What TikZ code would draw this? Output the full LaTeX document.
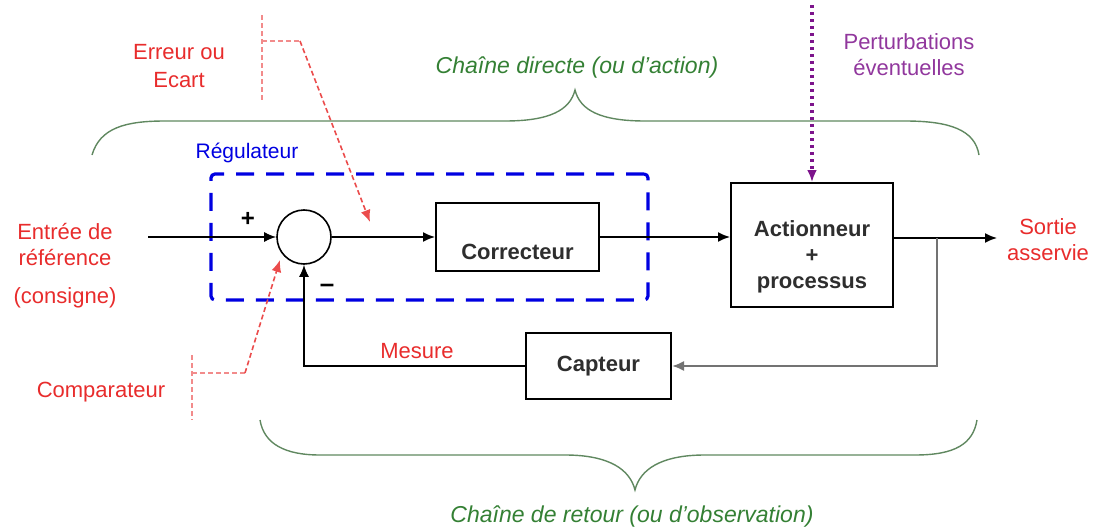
\documentclass[tikz,border=0pt]{standalone}
\usepackage{fontspec}
\setmainfont{Liberation Sans}
\usetikzlibrary{arrows.meta,calc}

\definecolor{errred}{RGB}{232,44,44}
\definecolor{chaingreen}{RGB}{52,128,52}
\definecolor{bracegreen}{RGB}{96,136,96}
\definecolor{regblue}{RGB}{0,0,225}
\definecolor{perturb}{RGB}{125,20,140}

\begin{document}
\begin{tikzpicture}[
    x=0.5pt, y=-0.5pt,
    font=\fontsize{11}{13}\selectfont,
    block/.style={draw=black, line width=1pt, fill=white, text=black!82, font=\fontsize{11}{13}\selectfont\bfseries, align=center},
    comparator/.style={draw=black, line width=0.8pt, circle, minimum size=27pt, inner sep=0pt},
    regulbox/.style={draw=regblue, line width=1.6pt, dash pattern=on 9pt off 6pt, rounded corners=2pt},
    signal/.style={-{Latex[length=6pt,width=5pt]}, line width=0.8pt, draw=black},
    retour/.style={-{Latex[length=6pt,width=5pt]}, line width=1pt, draw=black!55},
    pointer/.style={-{Latex[length=6pt,width=5pt]}, dash pattern=on 2.5pt off 1.5pt, line width=0.8pt, draw=errred!85},
    callout/.style={dash pattern=on 2.5pt off 1.5pt, line width=0.7pt, draw=errred!55},
    disturb/.style={-{Latex[length=6pt,width=5pt]}, line width=1.6pt, dash pattern=on 1.5pt off 2pt, draw=perturb},
    brace/.style={draw=bracegreen, line width=0.7pt},
    redlabel/.style={text=errred, align=center},
    chainlabel/.style={text=chaingreen, font=\fontsize{11.5}{13}\selectfont\itshape}
]
    \useasboundingbox (0,0) rectangle (1099,530);

    % Nodes
    \node[comparator] (sum) at (304,237) {};
    \node[block, minimum width=81.5pt, minimum height=34pt, text height=24pt, text depth=2pt] (corr) at (517.5,237) {Correcteur};
    \node[block, minimum width=81pt, minimum height=62pt, text height=46pt, text depth=2.5pt] (act) at (812,245) {Actionneur\\+\\processus};
    \node[block, minimum width=72.5pt, minimum height=33pt] (capt) at (598.5,366) {Capteur};
    \node[regulbox, minimum width=218.5pt, minimum height=63pt] (regul) at (429.5,237) {};

    \node[text=regblue, font=\fontsize{10.5}{13}\selectfont] (reglabel) at (247,153) {Régulateur};
    \node[font=\fontsize{12}{13}\selectfont\bfseries] (plus) at (248,219) {+};
    \node[font=\fontsize{13}{13}\selectfont\bfseries] (minus) at (327,288) {--};

    \node[redlabel] (entree) at (65,266) {Entrée de\\référence\\[6pt](consigne)};
    \node[redlabel] (sortie) at (1048,240) {Sortie\\asservie};
    \node[redlabel] (erreur) at (179,66) {Erreur ou\\[1pt]Ecart};
    \node[redlabel] (mesure) at (417,351) {Mesure};
    \node[redlabel] (compar) at (101,392) {Comparateur};
    \node[text=perturb!85, align=center] (perturblabel) at (909,55) {Perturbations\\éventuelles};

    \node[chainlabel] (directe) at (577,68) {Chaîne directe (ou d'action)};
    \node[chainlabel] (retourlabel) at (632,517) {Chaîne de retour (ou d'observation)};

    \coordinate (in) at (148,237);
    \coordinate (out) at (997,238);
    \coordinate (branch) at (937,238);
    \coordinate (dist) at (812,5);

    % Links
    \draw[signal] (in) -- (sum.west);
    \draw[signal] (sum.east) -- (corr.west);
    \draw[signal] (corr.east) -- (corr.east -| act.west);
    \draw[signal] (out -| act.east) -- (out);
    \draw[retour] (branch) |- (capt.east);
    \draw[signal] (capt.west) -| (sum.south);
    \draw[disturb] (dist) -- (act.north);

    % Callouts
    \coordinate (errtop) at (262,15);
    \coordinate (errbot) at (262,100);
    \coordinate (errknee) at (300,41);
    \coordinate (errtip) at (370,222);
    \draw[callout] (errtop) -- (errbot);
    \draw[callout] (errtop |- errknee) -- (errknee);
    \draw[pointer] (errknee) -- (errtip);

    \coordinate (comptop) at (192,355);
    \coordinate (compbot) at (192,420);
    \coordinate (compknee) at (245,373);
    \coordinate (comptip) at (280,260);
    \draw[callout] (comptop) -- (compbot);
    \draw[callout] (comptop |- compknee) -- (compknee);
    \draw[pointer] (compknee) -- (comptip);

    % Braces
    \draw[brace] (92,155) .. controls (100,128) and (125,121) .. (165,121) -- (505,121)
        .. controls (550,121) and (570,110) .. (575,90)
        .. controls (580,110) and (600,121) .. (645,121) -- (905,121)
        .. controls (950,121) and (975,130) .. (979,155);
    \draw[brace] (260,420) .. controls (264,444) and (285,455) .. (320,455) -- (565,455)
        .. controls (610,455) and (630,470) .. (635,490)
        .. controls (640,470) and (660,455) .. (705,455) -- (915,455)
        .. controls (955,455) and (973,444) .. (977,420);
\end{tikzpicture}
\end{document}
